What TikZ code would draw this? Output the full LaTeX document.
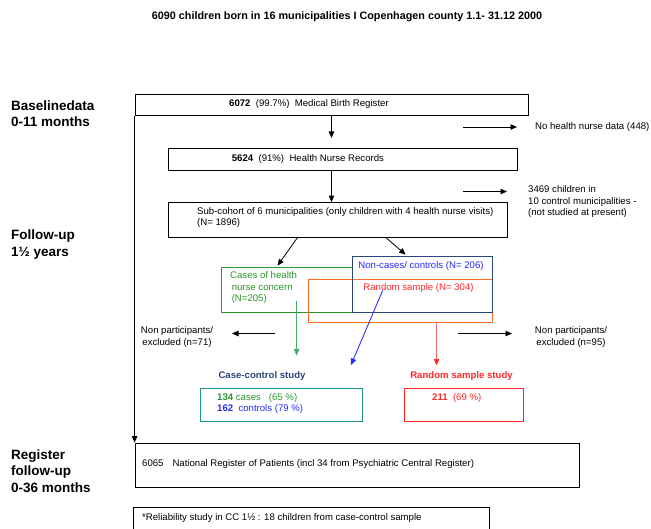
\documentclass[tikz,border=0pt]{standalone}
\usepackage{fontspec}
\setmainfont{Liberation Sans}
\usetikzlibrary{arrows.meta,calc,fit}
\definecolor{cgreen}{RGB}{40,150,40}
\definecolor{cgarrow}{RGB}{70,170,110}
\definecolor{cblue}{RGB}{40,40,255}
\definecolor{cnavy}{RGB}{40,70,120}
\definecolor{corange}{RGB}{255,110,30}
\definecolor{cred}{RGB}{255,40,40}
\definecolor{cpink}{RGB}{240,110,110}
\definecolor{cteal}{RGB}{30,150,140}
\begin{document}
\begin{tikzpicture}[x=1pt,y=-1pt,
  every node/.style={font=\fontsize{9.6}{11.5}\selectfont, inner sep=0pt},
  box/.style={draw, line width=0.8pt, inner sep=0pt},
  arr/.style={-{Triangle[length=6.5pt,width=5.5pt]}, line width=0.8pt},
  lbl/.style={font=\fontsize{13.5}{16.5}\selectfont\bfseries, align=left, anchor=west},
  bold/.style={font=\fontsize{9.6}{11.5}\selectfont\bfseries}]
\useasboundingbox (0,0) rectangle (651,528);

% title
\node[font=\fontsize{10.8}{13}\selectfont\bfseries] (title) at (347,17) {6090 children born in 16 municipalities I Copenhagen county 1.1- 31.12 2000};

% left labels
\node[lbl] (L1) at (11,113.5) {Baselinedata\\0-11 months};
\node[lbl] (L2) at (11,244.5) {Follow-up\\1\textonehalf{} years};
\node[lbl] (L3) at (11,471) {Register\\follow-up\\0-36 months};

% box 1
\node[box, fit={(135,94) (528,115.5)}] (b1) {};
\node[anchor=west] (t1) at (229,104.5) {\textbf{6072}\ \ (99.7\%)\ \ Medical Birth Register};
\draw[arr] (b1.south) -- ++(0,22);
\coordinate (nhs) at (463,127);
\node[anchor=west] (nh) at (535,127) {No health nurse data (448)};
\draw[arr] (nhs) -- ($(nh.west)+(-18,0)$);

% box 2
\node[box, fit={(168,148.3) (517,170.7)}] (b2) {};
\node[anchor=west] (t2) at (231.7,159.3) {\textbf{5624}\ \ (91\%)\ \ Health Nurse Records};
\draw[arr] (b2.south -| b1.south) -- ++(0,31);
\coordinate (cms) at (463,191.5);
\node[anchor=north west, align=left] (cm) at (528,185.5) {3469 children in\\10 control municipalities -\\(not studied at present)};
\draw[arr] (cms) -- ++(44,0);

% box 3
\node[box, fit={(168,202) (507,237)}] (b3) {};
\node[anchor=north west, align=left] (t3) at (197,207) {Sub-cohort of 6 municipalities (only children with 4 health nurse visits)\\(N= 1896)};

% overlapping boxes
\node[box, draw=cgreen, fit={(221,267) (352,312)}] (gbox) {};
\node[box, draw=corange, fit={(308,279) (492,322)}] (obox) {};
\node[box, draw=cnavy, fit={(352,256) (492,312)}] (bbox) {};
\node[anchor=north west, align=left, text=cgreen] (gt) at (230,271.5) {Cases of health\\\,nurse concern\\\,(N=205)};
\node[text=cblue] (bt) at (421,266) {Non-cases/ controls (N= 206)};
\node[text=cred] (rt) at (418.5,288.5) {Random sample (N= 304)};

\draw[arr] ($(b3.south west)+(130,0)$) -- ($(gbox.north west)+(57,-1)$);
\draw[arr] ($(b3.south west)+(218,0)$) -- ($(bbox.north west)+(54,-1)$);

% colored arrows
\draw[arr, draw=cgarrow, fill=cgarrow] ($(gbox.south west)+(76,-11)$) -- ($(gbox.south west)+(76,43)$);
\coordinate (bend) at (351,365);
\draw[arr, draw=cblue, fill=cblue] ($(bbox.north west)+(31,35)$) -- (bend);
\draw[draw=cpink, line width=0.8pt, -{Triangle[length=6.5pt,width=5.5pt,color=cred]}] ($(obox.south west)+(129,0)$) -- ++(0,43);

% non participants
\coordinate (np1s) at (275,333.5);
\node[align=center] (np1) at (177,337) {Non participants/\\excluded (n=71)};
\draw[arr] (np1s) -- ++(-43,0);
\coordinate (np2s) at (458,333.5);
\node[align=center] (np2) at (571,337) {Non participants/\\excluded (n=95)};
\draw[arr] (np2s) -- ++(54,0);

% studies
\node[bold, text=cnavy] (cc) at (262,376) {Case-control study};
\node[bold, text=cred] (rs) at (461.5,376) {Random sample study};
\node[box, draw=cteal, fit={(200,388) (362,421)}] (ccbox) {};
\node[anchor=west, align=left] (cct) at (217,403.5) {\textcolor{cgreen}{\textbf{134} cases\ \ \ (65 \%)}\\\textcolor{cblue}{\textbf{162}\ \ controls (79 \%)}};
\node[box, draw=cred, fit={(404,388) (523,421)}] (rsbox) {};
\node[anchor=west, text=cred] (rst) at (432,398) {\textbf{211}\ \ (69 \%)};

% register
\node[box, fit={(135,443) (579,487)}] (reg) {};
\node[anchor=west] (regt) at (142,464.5) {6065\hspace{9pt}National Register of Patients (incl 34 from Psychiatric Central Register)};
\draw[arr] (b1.south west) -- (reg.north west);

% reliability
\node[box, fit={(133,507) (489,532)}] (rel) {};
\node[anchor=west] (relt) at (142,518) {*Reliability study in CC 1\textonehalf{} : 18 children from case-control sample};
\end{tikzpicture}
\end{document}
